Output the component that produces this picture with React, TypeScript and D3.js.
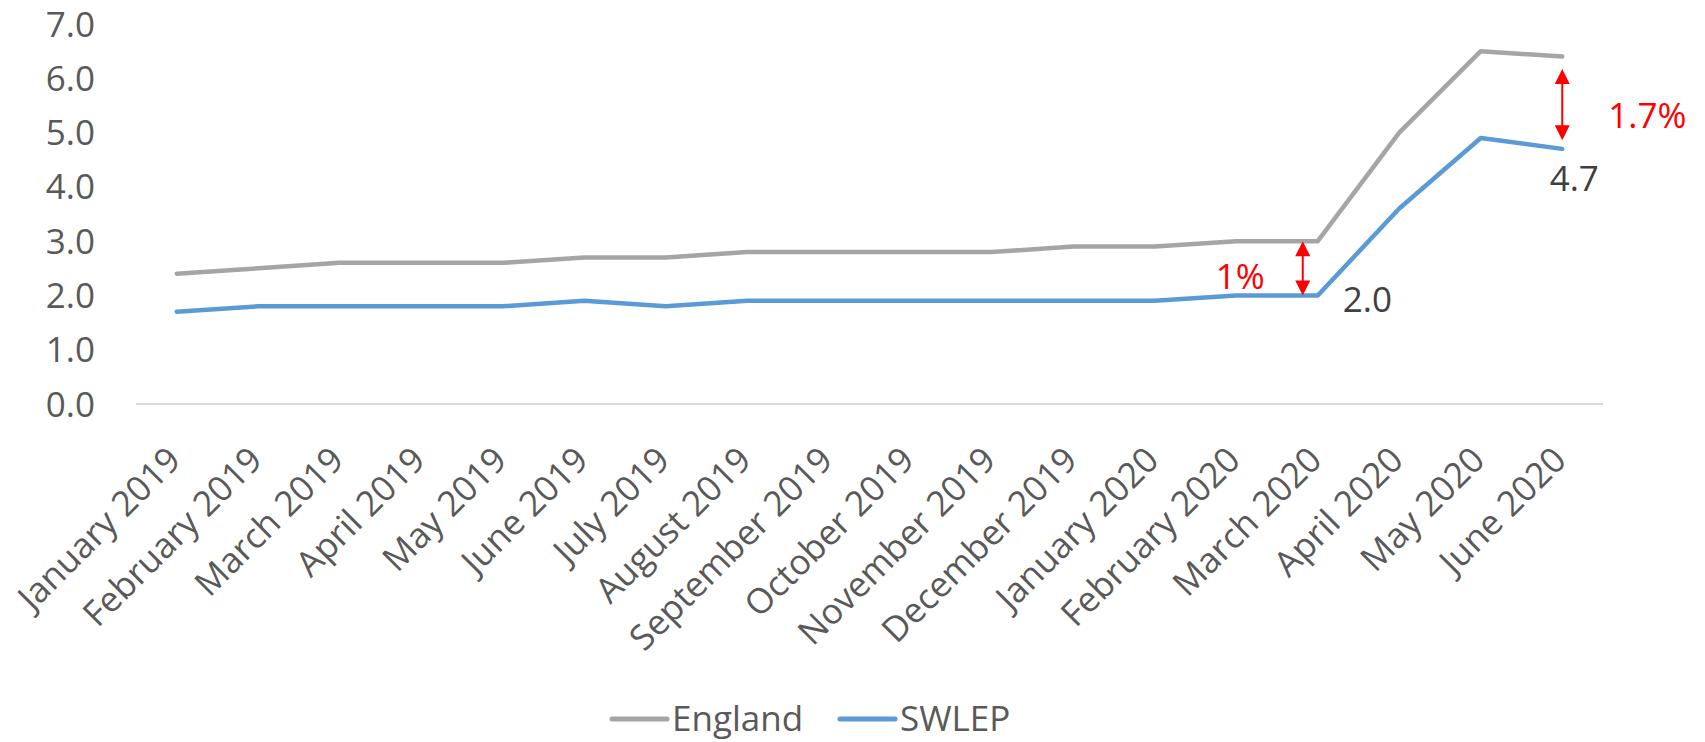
import React, { useEffect, useRef } from "react";
import * as d3 from "d3";

// Monthly categories on the x axis
const months = [
  "January 2019", "February 2019", "March 2019", "April 2019", "May 2019",
  "June 2019", "July 2019", "August 2019", "September 2019", "October 2019",
  "November 2019", "December 2019", "January 2020", "February 2020",
  "March 2020", "April 2020", "May 2020", "June 2020",
];

// Series values
const england = [2.4, 2.5, 2.6, 2.6, 2.6, 2.7, 2.7, 2.8, 2.8, 2.8, 2.8, 2.9, 2.9, 3.0, 3.0, 5.0, 6.5, 6.4];
const swlep = [1.7, 1.8, 1.8, 1.8, 1.8, 1.9, 1.8, 1.9, 1.9, 1.9, 1.9, 1.9, 1.9, 2.0, 2.0, 3.6, 4.9, 4.7];

const seriesNames = ["England", "SWLEP"];
const seriesColors = ["#A5A5A5", "#5B9BD5"];

// Y axis ticks
const yTicks = [0, 1, 2, 3, 4, 5, 6, 7];

// SWLEP points that carry a value label
const labelledMonths = ["March 2020", "June 2020"];

// Gap annotations: double arrows between the two series
const gapMonths = ["March 2020", "June 2020"];
const gapTop = [3.0, 6.17];
const gapBottom = [2.0, 4.86];
const gapText = ["1%", "1.7%"];

const W = 1705;
const H = 742;
const FONT = "'Open Sans', 'Noto Sans', sans-serif";

export default function App() {
  const ref = useRef<SVGSVGElement | null>(null);

  useEffect(() => {
    document.body.style.margin = "0";
    const svg = d3.select(ref.current);
    svg.selectAll("*").remove();

    const x = d3.scalePoint<string>().domain(months).range([136, 1603]).padding(0.5);
    const y = d3.scaleLinear().domain([0, 7]).range([404, 24]);

    // y tick labels
    svg.append("g")
      .selectAll("text")
      .data(yTicks)
      .join("text")
      .attr("x", 95)
      .attr("y", (d) => y(d))
      .attr("dy", "0.36em")
      .attr("text-anchor", "end")
      .attr("font-family", FONT)
      .attr("font-size", 35)
      .attr("fill", "#595959")
      .text((d) => d3.format(".1f")(d));

    // category axis line
    svg.append("line")
      .attr("x1", 136).attr("x2", 1603)
      .attr("y1", y(0)).attr("y2", y(0))
      .attr("stroke", "#D9D9D9").attr("stroke-width", 1.8);

    // rotated month labels
    svg.append("g")
      .selectAll("text")
      .data(months)
      .join("text")
      .attr("transform", (d) => `translate(${(x(d) as number) + 6},462) rotate(-45)`)
      .attr("text-anchor", "end")
      .attr("font-family", FONT)
      .attr("font-size", 35)
      .attr("fill", "#595959")
      .text((d) => d);

    // series lines
    const line = d3.line<number>()
      .x((_, i) => x(months[i]) as number)
      .y((d) => y(d));
    [england, swlep].forEach((vals, k) => {
      svg.append("path")
        .datum(vals)
        .attr("d", line)
        .attr("fill", "none")
        .attr("stroke", seriesColors[k])
        .attr("stroke-width", 4.5)
        .attr("stroke-linecap", "round")
        .attr("stroke-linejoin", "round");
    });

    // value labels on SWLEP
    const m0 = labelledMonths[0];
    const i0 = months.indexOf(m0);
    svg.append("text")
      .attr("x", (x(m0) as number) + 25)
      .attr("y", y(swlep[i0]) + 17)
      .attr("font-family", FONT)
      .attr("font-size", 35)
      .attr("fill", "#404040")
      .text(d3.format(".1f")(swlep[i0]));
    const m1 = labelledMonths[1];
    const i1 = months.indexOf(m1);
    svg.append("text")
      .attr("x", (x(m1) as number) + 12)
      .attr("y", y(swlep[i1]) + 42)
      .attr("text-anchor", "middle")
      .attr("font-family", FONT)
      .attr("font-size", 35)
      .attr("fill", "#404040")
      .text(d3.format(".1f")(swlep[i1]));

    // double-headed arrows with gap labels
    const red = "#FF0000";
    const head = 15;
    const arrowX = [(x(gapMonths[0]) as number) - 15, x(gapMonths[1]) as number];
    gapMonths.forEach((_, k) => {
      const ax = arrowX[k];
      const yt = y(gapTop[k]);
      const yb = y(gapBottom[k]);
      const g = svg.append("g");
      g.append("line")
        .attr("x1", ax).attr("x2", ax)
        .attr("y1", yt + head - 2).attr("y2", yb - head + 2)
        .attr("stroke", red).attr("stroke-width", 2);
      g.append("path")
        .attr("d", `M${ax},${yt} L${ax + head / 2},${yt + head} L${ax - head / 2},${yt + head} Z`)
        .attr("fill", red);
      g.append("path")
        .attr("d", `M${ax},${yb} L${ax + head / 2},${yb - head} L${ax - head / 2},${yb - head} Z`)
        .attr("fill", red);
    });
    svg.append("text")
      .attr("x", arrowX[0] - 38)
      .attr("y", y(gapBottom[0]) - 6)
      .attr("text-anchor", "end")
      .attr("font-family", FONT)
      .attr("font-size", 35)
      .attr("fill", red)
      .text(gapText[0]);
    svg.append("text")
      .attr("x", arrowX[1] + 46)
      .attr("y", (y(gapTop[1]) + y(gapBottom[1])) / 2 + 23)
      .attr("font-family", FONT)
      .attr("font-size", 35)
      .attr("fill", red)
      .text(gapText[1]);

    // legend
    const legendX = [612, 840];
    seriesNames.forEach((name, k) => {
      svg.append("line")
        .attr("x1", legendX[k]).attr("x2", legendX[k] + 55)
        .attr("y1", 719).attr("y2", 719)
        .attr("stroke", seriesColors[k])
        .attr("stroke-width", 5)
        .attr("stroke-linecap", "round");
      svg.append("text")
        .attr("x", legendX[k] + 60)
        .attr("y", 731)
        .attr("font-family", FONT)
        .attr("font-size", 35)
        .attr("fill", "#595959")
        .text(name);
    });
  }, []);

  return (
    <svg
      ref={ref}
      width={W}
      height={H}
      style={{ display: "block", position: "absolute", left: 0, top: 0, background: "#fff" }}
    />
  );
}
